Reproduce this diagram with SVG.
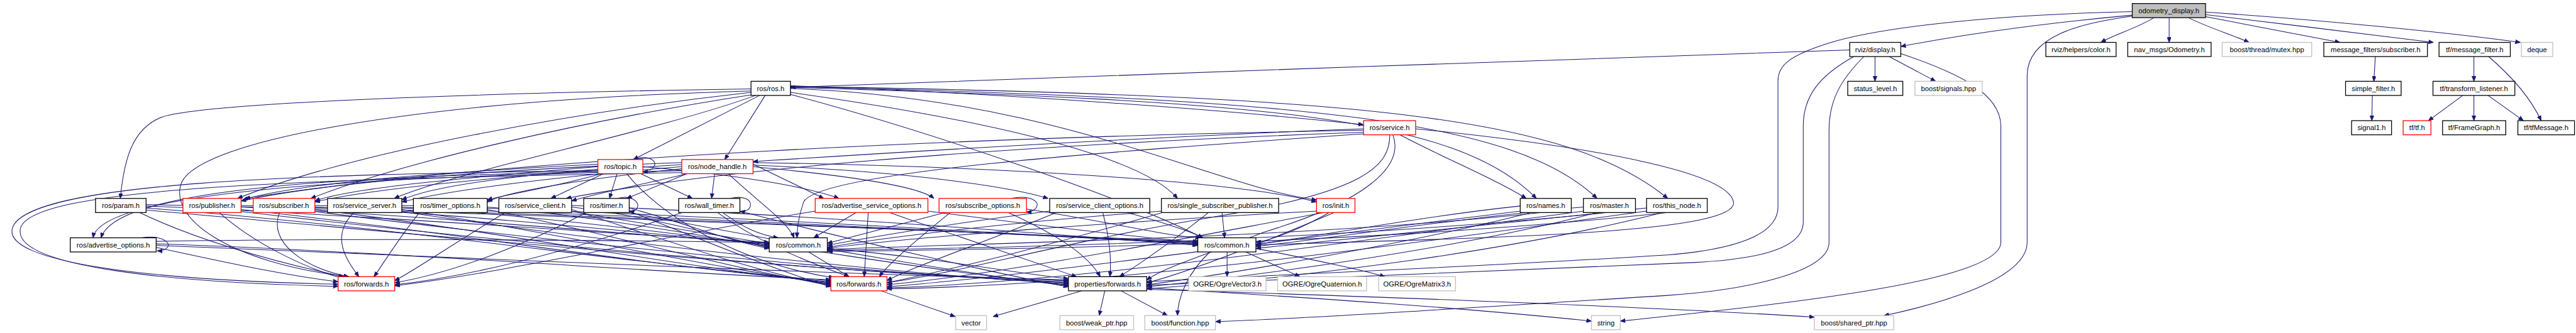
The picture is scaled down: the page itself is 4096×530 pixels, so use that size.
<svg xmlns="http://www.w3.org/2000/svg" width="4096" height="530" viewBox="0 0 4096 530">
<style>
.n rect{fill:#fff;stroke:#000;stroke-width:1.6}
.n.red rect{stroke:#ff0000}
.n.ext rect{stroke:#bfbfbf}
.n.root rect{fill:#bfbfbf}
.n text{font-family:"Liberation Sans",Arial,sans-serif;font-size:14px;text-anchor:middle;fill:#000}
#edges path{fill:none;stroke:#191970;stroke-width:1.3;marker-end:url(#ah)}
</style>
<defs>
<marker id="ah" viewBox="0 0 10 8" refX="10" refY="4" markerWidth="10" markerHeight="8" markerUnits="userSpaceOnUse" orient="auto"><path d="M0,0 L10,4 L0,8 z" fill="#191970" stroke="#191970"/></marker>
</defs>
<rect width="4096" height="530" fill="#fff"/>
<g transform="scale(0.80361)">
<g id="edges">
<path d="M4219,30 C4000,50 3850,75 3761,92"/>
<path d="M4262,35 C4230,55 4180,70 4157,84"/>
<path d="M4292,35 L4292,84"/>
<path d="M4330,35 C4370,55 4420,70 4450,84"/>
<path d="M4364,33 C4450,50 4560,70 4630,84"/>
<path d="M4364,29 C4500,45 4700,70 4815,84"/>
<path d="M4364,24 C4600,40 4850,65 4987,84"/>
<path d="M4219,32 C4120,45 4011,70 4011,150 L4011,480 C4011,560 3800,610 3728,625"/>
<path d="M4219,23 C3900,30 3700,60 3620,85 C3540,110 3518,130 3518,160 L3518,410 C3518,470 3420,495 3300,505 C2900,530 2500,545 2269,558"/>
<path d="M3660,99 C3000,120 2200,150 1564,173"/>
<path d="M3710,112 L3710,161"/>
<path d="M3738,112 L3830,161"/>
<path d="M3668,112 C3600,150 3568,190 3568,250 L3568,440 C3568,500 3450,515 3350,520 C2900,540 2500,552 2269,565"/>
<path d="M3688,112 C3640,160 3619,200 3619,260 L3619,480 C3619,540 3450,575 3300,585 C2900,610 2600,630 2405,637"/>
<path d="M3761,106 C3860,140 3959,180 3959,250 L3959,480 C3959,560 3500,605 3206,636"/>
<path d="M4700,112 L4697,161"/>
<path d="M4694,189 L4693,239"/>
<path d="M4895,112 L4895,161"/>
<path d="M4924,112 C4980,160 5010,200 5028,239"/>
<path d="M4873,189 L4805,239"/>
<path d="M4895,189 L4895,239"/>
<path d="M4923,189 L4993,239"/>
<path d="M1503,189 L1253,316"/>
<path d="M1514,189 L1434,316"/>
<path d="M1486,176 C900,185 400,205 320,232 C260,255 245,320 238,393"/>
<path d="M1486,183 C1150,220 700,300 470,393"/>
<path d="M1486,188 C1150,240 800,320 615,393"/>
<path d="M1495,189 C1300,260 900,340 780,393"/>
<path d="M1564,170 C2000,185 2450,220 2698,247"/>
<path d="M1564,175 C2100,195 2400,370 2605,396"/>
<path d="M1564,173 C2500,200 2880,230 3040,393"/>
<path d="M1564,172 C2600,195 3000,240 3160,393"/>
<path d="M1564,171 C2700,190 3100,230 3300,393"/>
<path d="M1564,183 C1900,230 2250,300 2330,393"/>
<path d="M1564,187 C1800,250 2200,380 2380,471"/>
<path d="M1486,180 C800,200 400,280 360,360 C330,430 450,520 690,548"/>
<path d="M2698,258 C2000,270 1000,310 485,393"/>
<path d="M2698,262 C2200,280 1500,320 1120,393"/>
<path d="M2698,255 C2300,270 1800,300 1490,320"/>
<path d="M2770,267 C2850,310 2950,350 3020,393"/>
<path d="M2801,255 C3150,290 3420,340 3430,400 C3440,460 3000,470 2485,485"/>
<path d="M2750,267 C2750,330 2700,380 2400,430 C2100,480 1900,540 1755,560"/>
<path d="M2756,267 C2780,330 2700,400 2500,460 C2400,500 2300,530 2269,555"/>
<path d="M2698,265 C2200,300 1620,340 1590,400 C1580,430 1577,450 1577,471"/>
<path d="M1255,316 C1280,305 1300,318 1295,328 C1290,338 1282,340 1272,340"/>
<path d="M1194,344 L1090,393"/>
<path d="M1221,344 L1206,393"/>
<path d="M1268,344 L1370,393"/>
<path d="M1240,344 C1300,420 1450,520 1650,550"/>
<path d="M1183,325 C900,340 600,360 480,396"/>
<path d="M1183,330 C950,350 700,370 623,398"/>
<path d="M1183,335 C1000,350 850,370 795,396"/>
<path d="M1190,344 C1100,370 1000,385 964,396"/>
<path d="M1183,338 C600,345 60,360 25,450 C0,520 300,555 669,563"/>
<path d="M1183,340 C700,350 230,370 200,471"/>
<path d="M1349,322 C1000,335 650,360 477,398"/>
<path d="M1349,326 C1050,345 750,370 623,400"/>
<path d="M1349,330 C1100,350 900,375 795,400"/>
<path d="M1349,334 C1150,355 1000,380 964,400"/>
<path d="M1360,344 C1250,370 1170,385 1131,398"/>
<path d="M1359,344 L1240,393"/>
<path d="M1414,344 L1408,393"/>
<path d="M1441,344 C1500,400 1560,440 1571,471"/>
<path d="M1490,325 L1630,393"/>
<path d="M1272,330 C1450,345 1600,370 1660,393"/>
<path d="M1490,330 C1700,350 1820,370 1848,393"/>
<path d="M1490,327 C1800,340 2000,370 2074,393"/>
<path d="M1490,322 C2000,330 2450,360 2605,400"/>
<path d="M1349,338 C700,350 200,380 184,471"/>
<path d="M1349,342 C600,355 50,370 40,455 C30,530 350,560 669,567"/>
<path d="M276,421 C400,480 550,520 680,548"/>
<path d="M289,408 C800,430 1300,470 1522,480"/>
<path d="M289,412 C800,450 1300,530 1644,556"/>
<path d="M289,416 C900,470 1600,540 2114,556"/>
<path d="M289,405 C1000,420 1900,460 2370,478"/>
<path d="M434,421 C500,480 600,530 680,552"/>
<path d="M477,410 C900,430 1300,470 1522,482"/>
<path d="M477,415 C900,460 1300,530 1644,558"/>
<path d="M477,419 C1000,480 1700,545 2114,558"/>
<path d="M477,407 C1200,425 1900,460 2370,480"/>
<path d="M553,421 C530,480 600,530 690,548"/>
<path d="M623,410 C1000,430 1350,470 1522,484"/>
<path d="M623,415 C1000,460 1350,530 1644,560"/>
<path d="M623,419 C1100,480 1750,545 2114,560"/>
<path d="M623,407 C1300,425 1950,462 2370,482"/>
<path d="M700,421 C650,470 690,520 710,548"/>
<path d="M795,410 C1100,430 1400,472 1522,486"/>
<path d="M795,415 C1100,460 1400,530 1644,562"/>
<path d="M795,419 C1200,480 1800,545 2114,562"/>
<path d="M795,407 C1400,425 2000,462 2370,484"/>
<path d="M830,421 C790,470 760,520 740,548"/>
<path d="M964,410 C1200,430 1420,474 1522,488"/>
<path d="M964,415 C1200,460 1450,535 1644,564"/>
<path d="M1000,421 C900,480 830,530 781,556"/>
<path d="M1131,410 C1300,430 1450,476 1522,490"/>
<path d="M1131,415 C1300,470 1500,540 1644,566"/>
<path d="M1131,419 C1500,480 1900,545 2114,564"/>
<path d="M1131,407 C1600,425 2100,465 2370,486"/>
<path d="M1222,393 C1250,385 1262,400 1262,407 C1262,415 1255,420 1245,418"/>
<path d="M1160,421 C1050,480 900,540 781,560"/>
<path d="M1245,412 C1350,440 1450,480 1522,492"/>
<path d="M1245,418 C1400,480 1550,540 1644,568"/>
<path d="M1245,421 C1600,490 1950,548 2114,566"/>
<path d="M1445,393 C1470,387 1485,395 1485,405 C1485,415 1475,420 1464,419"/>
<path d="M1350,421 C1150,490 950,545 781,564"/>
<path d="M1430,421 C1470,450 1500,465 1540,471"/>
<path d="M1420,421 C1500,480 1600,520 1680,548"/>
<path d="M1464,418 C1700,480 2000,548 2114,568"/>
<path d="M1694,421 L1610,471"/>
<path d="M1718,421 L1710,548"/>
<path d="M1613,418 C1300,470 1000,540 781,566"/>
<path d="M1760,421 C1900,470 2050,520 2130,548"/>
<path d="M1836,418 C2000,440 2250,470 2370,480"/>
<path d="M2000,393 C2040,385 2055,400 2052,407 C2050,415 2042,420 2031,420"/>
<path d="M1880,421 C1820,470 1760,520 1740,548"/>
<path d="M1995,421 C2080,460 2150,500 2177,548"/>
<path d="M1870,421 C1760,450 1680,470 1637,482"/>
<path d="M2031,414 C2200,440 2320,470 2375,471"/>
<path d="M2182,421 C2195,470 2200,510 2196,548"/>
<path d="M2090,421 C1950,480 1800,530 1755,556"/>
<path d="M2077,418 C1900,440 1720,470 1637,486"/>
<path d="M2230,421 C2300,440 2360,460 2380,471"/>
<path d="M2391,421 C2330,470 2260,520 2215,548"/>
<path d="M2418,421 L2423,471"/>
<path d="M2300,421 C2100,480 1900,530 1755,560"/>
<path d="M2298,418 C2000,440 1750,470 1637,490"/>
<path d="M2620,421 C2300,480 2000,540 1755,564"/>
<path d="M2605,418 C2200,440 1800,470 1637,492"/>
<path d="M2630,421 C2580,450 2520,475 2485,480"/>
<path d="M2640,421 C2500,480 2350,540 2269,560"/>
<path d="M3008,418 C2500,480 2000,550 1755,568"/>
<path d="M3008,408 C2800,430 2600,470 2485,484"/>
<path d="M3030,421 C2800,480 2450,540 2269,564"/>
<path d="M3050,421 C2600,470 2000,480 1637,494"/>
<path d="M3133,418 C2600,490 2100,560 1755,570"/>
<path d="M3133,410 C2900,430 2650,470 2485,488"/>
<path d="M3160,421 C2900,490 2500,545 2269,568"/>
<path d="M3180,421 C2700,470 2100,490 1637,496"/>
<path d="M3258,418 C2700,495 2200,565 1755,572"/>
<path d="M3258,412 C3000,440 2700,470 2485,492"/>
<path d="M3290,421 C3000,495 2600,548 2269,572"/>
<path d="M3300,421 C2800,475 2200,492 1637,498"/>
<path d="M280,471 C320,465 335,480 333,487 C330,494 320,497 311,497"/>
<path d="M309,490 C450,520 560,545 669,558"/>
<path d="M309,478 C800,470 1300,478 1522,480"/>
<path d="M309,483 C800,500 1300,540 1644,554"/>
<path d="M309,486 C900,510 1700,545 2114,554"/>
<path d="M1600,499 L1680,548"/>
<path d="M1637,492 C1850,510 2000,540 2114,552"/>
<path d="M2428,499 L2428,548"/>
<path d="M2465,499 L2572,548"/>
<path d="M2485,492 C2600,515 2700,535 2740,548"/>
<path d="M2394,499 C2350,540 2330,590 2330,625"/>
<path d="M1743,576 L1890,627"/>
<path d="M2140,576 L1965,627"/>
<path d="M2186,576 L2175,625"/>
<path d="M2218,576 L2310,625"/>
<path d="M2269,570 C2600,590 2900,610 3149,636"/>
<path d="M2269,573 C2800,590 3300,610 3590,628"/>
</g>
<g id="odometry_display" class="n root"><rect x="4219" y="7" width="145" height="28"/><text x="4291.5" y="26">odometry_display.h</text></g>
<g id="rviz_display" class="n"><rect x="3660" y="84" width="101" height="28"/><text x="3710.5" y="103">rviz/display.h</text></g>
<g id="rviz_color" class="n"><rect x="4048" y="84" width="139" height="28"/><text x="4117.5" y="103">rviz/helpers/color.h</text></g>
<g id="nav_odometry" class="n"><rect x="4210" y="84" width="165" height="28"/><text x="4292.5" y="103">nav_msgs/Odometry.h</text></g>
<g id="boost_mutex" class="n ext"><rect x="4397" y="84" width="177" height="28"/><text x="4485.5" y="103">boost/thread/mutex.hpp</text></g>
<g id="mf_subscriber" class="n"><rect x="4598" y="84" width="205" height="28"/><text x="4700.5" y="103">message_filters/subscriber.h</text></g>
<g id="tf_message_filter" class="n"><rect x="4826" y="84" width="141" height="28"/><text x="4896.5" y="103">tf/message_filter.h</text></g>
<g id="deque" class="n ext"><rect x="4989" y="84" width="62" height="28"/><text x="5020" y="103">deque</text></g>
<g id="ros_ros" class="n"><rect x="1486" y="161" width="78" height="28"/><text x="1525" y="180">ros/ros.h</text></g>
<g id="status_level" class="n"><rect x="3656" y="161" width="109" height="28"/><text x="3710.5" y="180">status_level.h</text></g>
<g id="boost_signals" class="n ext"><rect x="3789" y="161" width="133" height="28"/><text x="3855.5" y="180">boost/signals.hpp</text></g>
<g id="simple_filter" class="n"><rect x="4641" y="161" width="110" height="28"/><text x="4696" y="180">simple_filter.h</text></g>
<g id="tf_transform_listener" class="n"><rect x="4814" y="161" width="162" height="28"/><text x="4895" y="180">tf/transform_listener.h</text></g>
<g id="ros_service" class="n red"><rect x="2698" y="239" width="103" height="28"/><text x="2749.5" y="258">ros/service.h</text></g>
<g id="signal1" class="n"><rect x="4653" y="239" width="79" height="28"/><text x="4692.5" y="258">signal1.h</text></g>
<g id="tf_tf" class="n red"><rect x="4755" y="239" width="55" height="28"/><text x="4782.5" y="258">tf/tf.h</text></g>
<g id="tf_framegraph" class="n"><rect x="4833" y="239" width="125" height="28"/><text x="4895.5" y="258">tf/FrameGraph.h</text></g>
<g id="tf_tfmessage" class="n"><rect x="4982" y="239" width="112" height="28"/><text x="5038" y="258">tf/tfMessage.h</text></g>
<g id="ros_topic" class="n red"><rect x="1183" y="316" width="89" height="28"/><text x="1227.5" y="335">ros/topic.h</text></g>
<g id="ros_node_handle" class="n red"><rect x="1349" y="316" width="141" height="28"/><text x="1419.5" y="335">ros/node_handle.h</text></g>
<g id="ros_param" class="n"><rect x="189" y="393" width="100" height="28"/><text x="239" y="412">ros/param.h</text></g>
<g id="ros_publisher" class="n red"><rect x="362" y="393" width="115" height="28"/><text x="419.5" y="412">ros/publisher.h</text></g>
<g id="ros_subscriber" class="n red"><rect x="501" y="393" width="122" height="28"/><text x="562" y="412">ros/subscriber.h</text></g>
<g id="ros_service_server" class="n"><rect x="648" y="393" width="147" height="28"/><text x="721.5" y="412">ros/service_server.h</text></g>
<g id="ros_timer_options" class="n"><rect x="818" y="393" width="146" height="28"/><text x="891" y="412">ros/timer_options.h</text></g>
<g id="ros_service_client" class="n"><rect x="987" y="393" width="144" height="28"/><text x="1059" y="412">ros/service_client.h</text></g>
<g id="ros_timer" class="n"><rect x="1155" y="393" width="90" height="28"/><text x="1200" y="412">ros/timer.h</text></g>
<g id="ros_wall_timer" class="n"><rect x="1343" y="393" width="121" height="28"/><text x="1403.5" y="412">ros/wall_timer.h</text></g>
<g id="ros_advertise_service_options" class="n red"><rect x="1613" y="393" width="223" height="28"/><text x="1724.5" y="412">ros/advertise_service_options.h</text></g>
<g id="ros_subscribe_options" class="n red"><rect x="1858" y="393" width="173" height="28"/><text x="1944.5" y="412">ros/subscribe_options.h</text></g>
<g id="ros_service_client_options" class="n"><rect x="2077" y="393" width="198" height="28"/><text x="2176" y="412">ros/service_client_options.h</text></g>
<g id="ros_single_subscriber_publisher" class="n"><rect x="2298" y="393" width="232" height="28"/><text x="2414" y="412">ros/single_subscriber_publisher.h</text></g>
<g id="ros_init" class="n red"><rect x="2605" y="393" width="76" height="28"/><text x="2643" y="412">ros/init.h</text></g>
<g id="ros_names" class="n"><rect x="3008" y="393" width="101" height="28"/><text x="3058.5" y="412">ros/names.h</text></g>
<g id="ros_master" class="n"><rect x="3133" y="393" width="103" height="28"/><text x="3184.5" y="412">ros/master.h</text></g>
<g id="ros_this_node" class="n"><rect x="3258" y="393" width="120" height="28"/><text x="3318" y="412">ros/this_node.h</text></g>
<g id="ros_advertise_options" class="n"><rect x="139" y="471" width="170" height="28"/><text x="224" y="490">ros/advertise_options.h</text></g>
<g id="ros_common_1" class="n"><rect x="1522" y="471" width="115" height="28"/><text x="1579.5" y="490">ros/common.h</text></g>
<g id="ros_common_2" class="n"><rect x="2370" y="471" width="115" height="28"/><text x="2427.5" y="490">ros/common.h</text></g>
<g id="ros_forwards_1" class="n red"><rect x="669" y="548" width="112" height="28"/><text x="725" y="567">ros/forwards.h</text></g>
<g id="ros_forwards_2" class="n red"><rect x="1644" y="548" width="111" height="28"/><text x="1699.5" y="567">ros/forwards.h</text></g>
<g id="properties_forwards" class="n"><rect x="2114" y="548" width="155" height="28"/><text x="2191.5" y="567">properties/forwards.h</text></g>
<g id="ogre_vector3" class="n ext"><rect x="2352" y="548" width="153" height="28"/><text x="2428.5" y="567">OGRE/OgreVector3.h</text></g>
<g id="ogre_quaternion" class="n ext"><rect x="2528" y="548" width="176" height="28"/><text x="2616" y="567">OGRE/OgreQuaternion.h</text></g>
<g id="ogre_matrix3" class="n ext"><rect x="2728" y="548" width="152" height="28"/><text x="2804" y="567">OGRE/OgreMatrix3.h</text></g>
<g id="vector" class="n ext"><rect x="1891" y="625" width="61" height="28"/><text x="1921.5" y="644">vector</text></g>
<g id="boost_weak_ptr" class="n ext"><rect x="2097" y="625" width="146" height="28"/><text x="2170" y="644">boost/weak_ptr.hpp</text></g>
<g id="boost_function" class="n ext"><rect x="2265" y="625" width="140" height="28"/><text x="2335" y="644">boost/function.hpp</text></g>
<g id="string" class="n ext"><rect x="3149" y="625" width="57" height="28"/><text x="3177.5" y="644">string</text></g>
<g id="boost_shared_ptr" class="n ext"><rect x="3590" y="625" width="157" height="28"/><text x="3668.5" y="644">boost/shared_ptr.hpp</text></g>
</g>
</svg>
